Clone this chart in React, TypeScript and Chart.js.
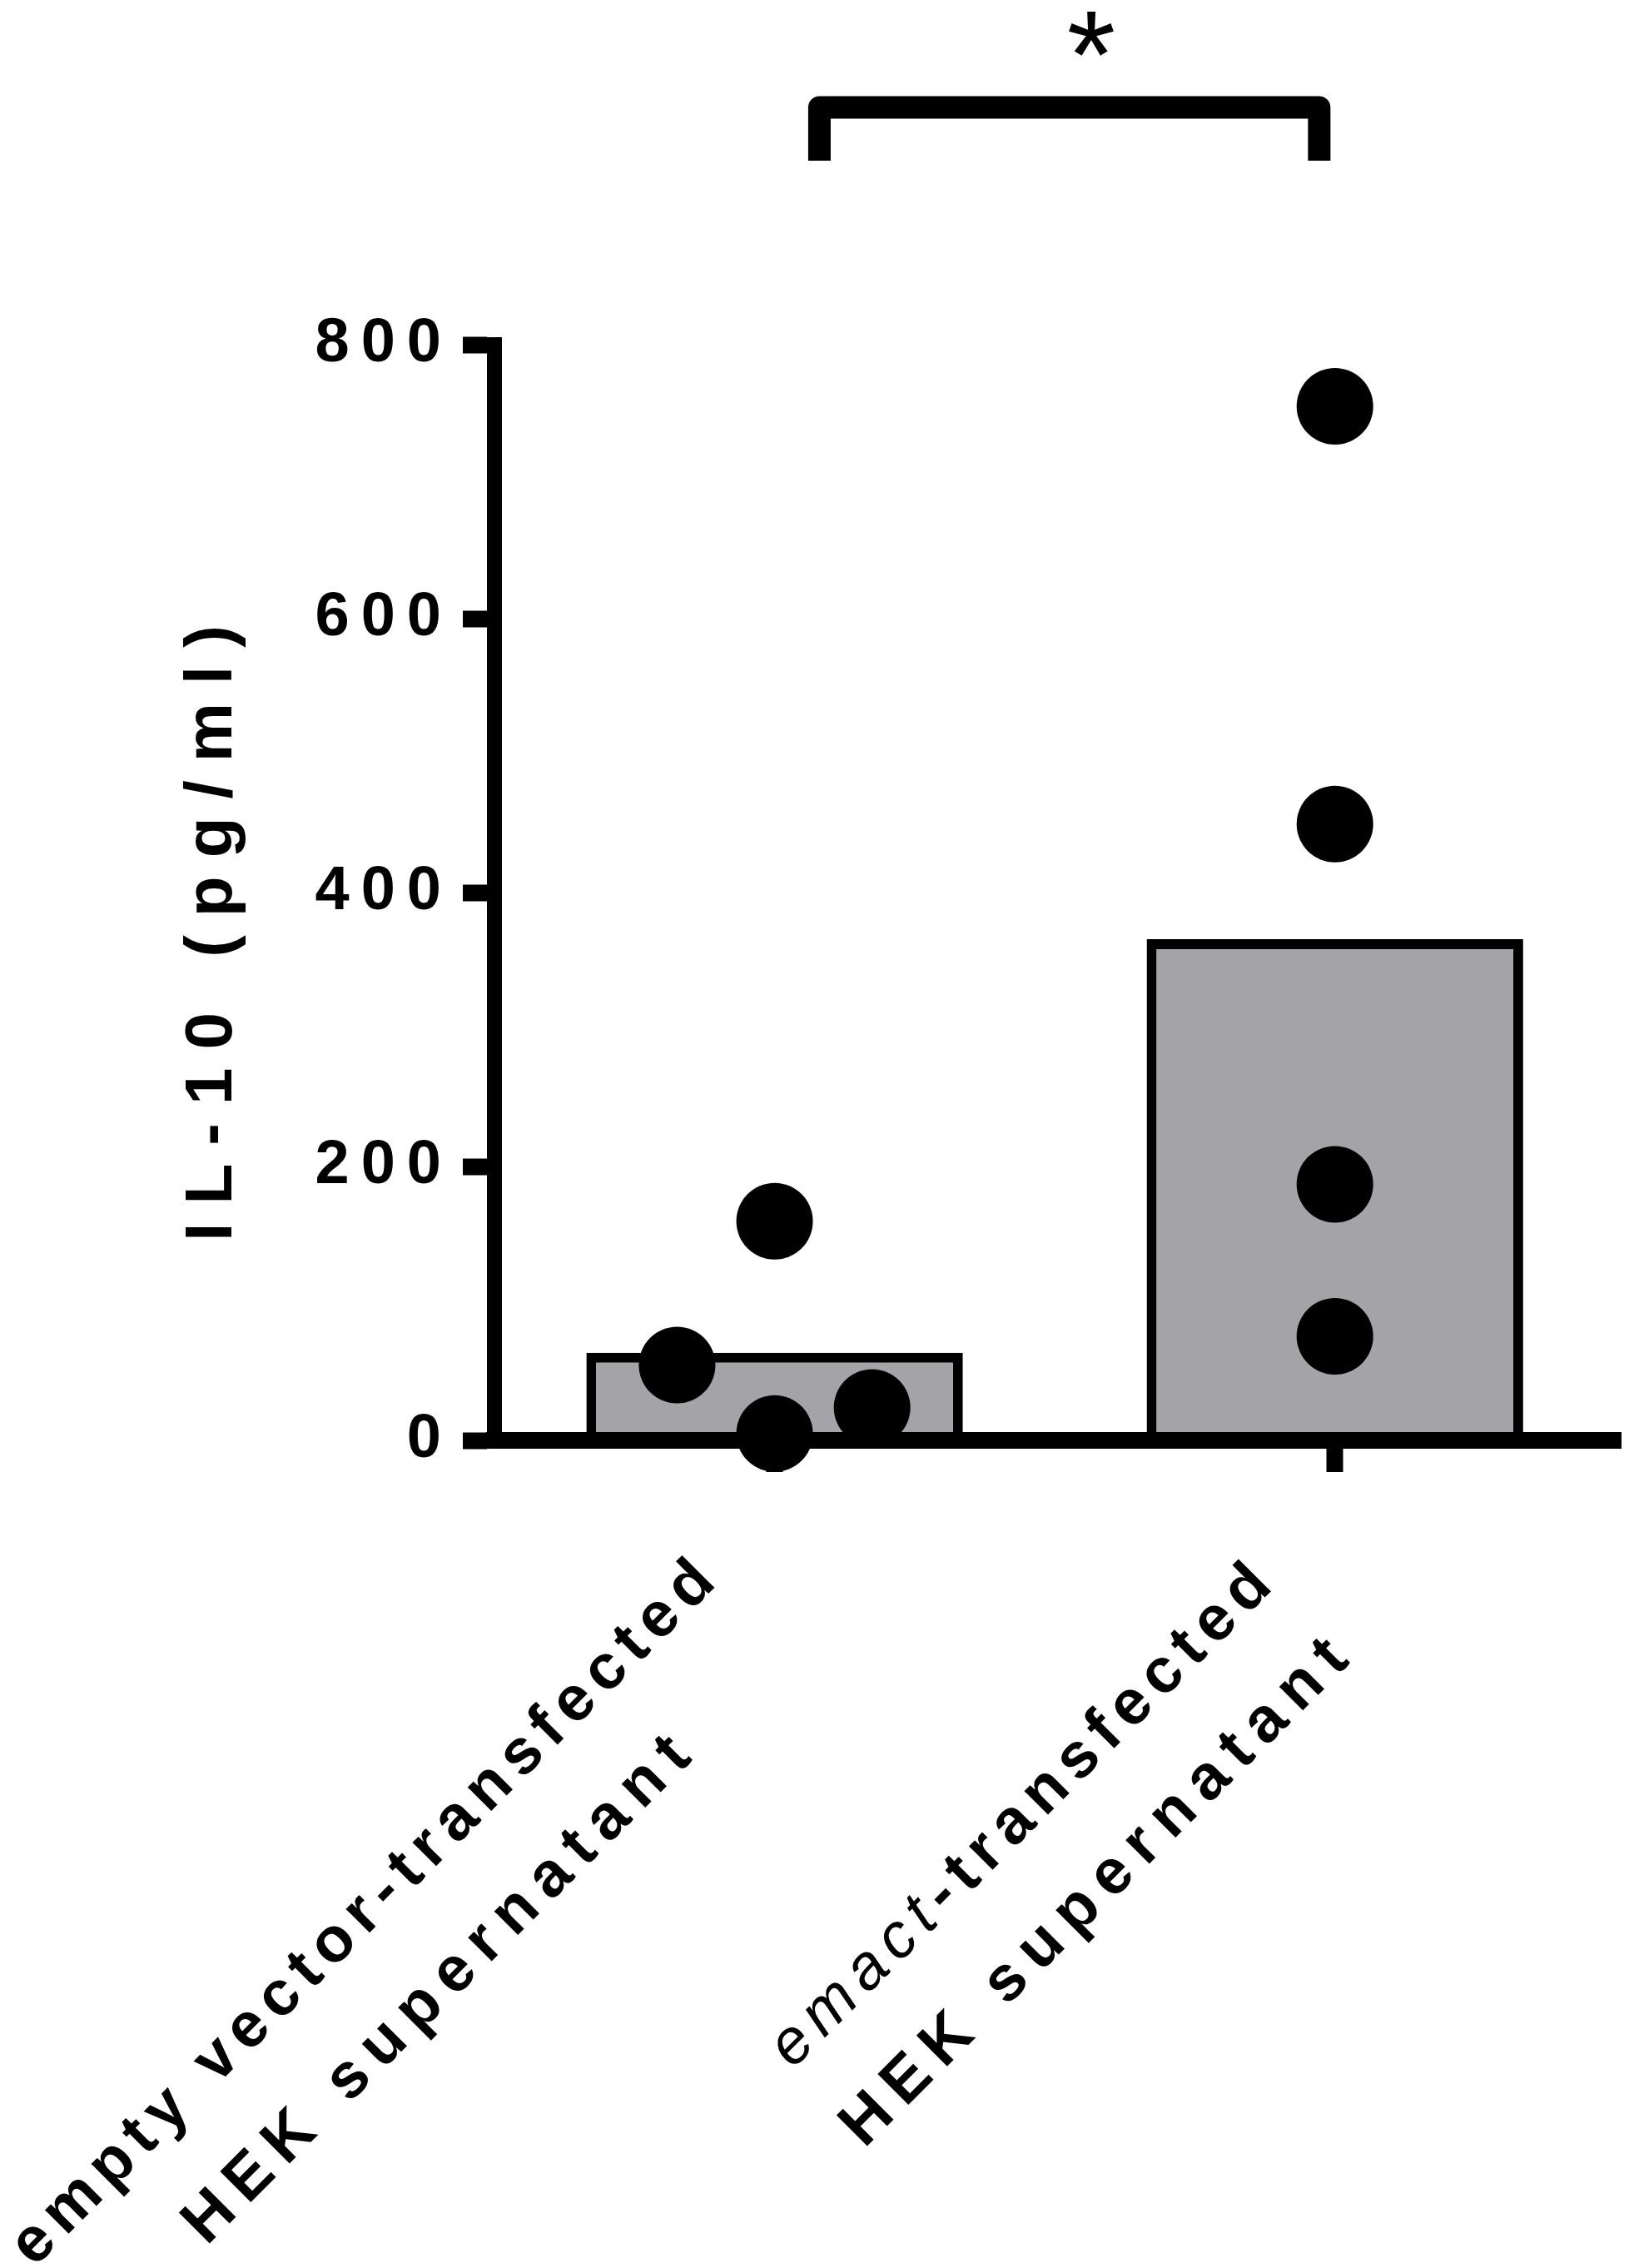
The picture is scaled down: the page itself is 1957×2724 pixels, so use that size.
import React, { useEffect, useRef } from 'react';
import { Chart, registerables } from 'chart.js';

Chart.register(...registerables);

// ---- data ----
const categoryPositions = [0, 1];
const categoryLabels = [
  [
    [{ text: 'empty vector-transfected', italic: false }],
    [{ text: 'HEK supernatant', italic: false }],
  ],
  [
    [{ text: 'emact', italic: true }, { text: '-transfected', italic: false }],
    [{ text: 'HEK supernatant', italic: false }],
  ],
];
const barMeans = [64, 366];
const group1Values = [55, 160, 5, 24];
const group1Jitter = [-0.174, 0, 0, 0.174];
const group2Values = [755, 450, 187, 76];
const group2Jitter = [0, 0, 0, 0];
const yTicks = [0, 200, 400, 600, 800];
const yTitle = 'IL-10 (pg/ml)';
const significanceMark = '*';

const FONT = '"Liberation Sans", Arial, sans-serif';
const LABEL_SIZE = 76;
const LINE_SPACING = ['11px', '15px'];

const decorPlugin = {
  id: 'decor',
  beforeDraw(chart: any) {
    chart.ctx.letterSpacing = '14px';
  },
  afterDraw(chart: any) {
    const ctx = chart.ctx;
    const xs = chart.scales.x;
    const ca = chart.chartArea;
    ctx.save();
    ctx.fillStyle = '#000';
    ctx.strokeStyle = '#000';

    // y-axis title
    ctx.save();
    ctx.letterSpacing = '22px';
    ctx.font = `bold 80px ${FONT}`;
    ctx.textAlign = 'center';
    ctx.textBaseline = 'alphabetic';
    ctx.translate(ca.left - 316, (ca.top + ca.bottom) / 2 + 49);
    ctx.rotate(-Math.PI / 2);
    ctx.fillText(yTitle, 11, 0);
    ctx.restore();

    // x category labels (rotated 45deg, centered lines)
    const END_U = -160;
    const N0 = 74;
    const LH = 128;
    const fontFor = (s: any) =>
      s.italic ? `italic ${LABEL_SIZE}px ${FONT}` : `bold ${LABEL_SIZE}px ${FONT}`;
    categoryLabels.forEach((lines, i) => {
      const tx = xs.getPixelForValue(categoryPositions[i]);
      const ty = ca.bottom;
      ctx.save();
      ctx.translate(tx, ty);
      ctx.rotate(-Math.PI / 4);
      ctx.textAlign = 'left';
      ctx.textBaseline = 'alphabetic';
      const widths = lines.map((segs, j) => {
        ctx.letterSpacing = LINE_SPACING[j];
        return segs.reduce((w, s) => {
          ctx.font = fontFor(s);
          return w + ctx.measureText(s.text).width;
        }, 0);
      });
      const maxW = Math.max(...widths);
      const cx = END_U - maxW / 2;
      lines.forEach((segs, j) => {
        ctx.letterSpacing = LINE_SPACING[j];
        let x = cx - widths[j] / 2;
        const y = N0 + j * LH;
        segs.forEach((s) => {
          ctx.font = fontFor(s);
          ctx.fillText(s.text, x, y);
          x += ctx.measureText(s.text).width;
        });
      });
      ctx.restore();
    });

    // significance bracket
    const lx = xs.getPixelForValue(0.08);
    const rx = xs.getPixelForValue(0.972);
    ctx.save();
    ctx.lineWidth = 27;
    ctx.lineJoin = 'round';
    ctx.lineCap = 'butt';
    ctx.beginPath();
    ctx.moveTo(lx, 193);
    ctx.lineTo(lx, 129);
    ctx.lineTo(rx, 129);
    ctx.lineTo(rx, 193);
    ctx.stroke();
    ctx.restore();

    // asterisk
    ctx.save();
    ctx.letterSpacing = '0px';
    ctx.font = `150px ${FONT}`;
    ctx.textAlign = 'center';
    ctx.textBaseline = 'alphabetic';
    const m = ctx.measureText(significanceMark);
    const cy = 40;
    const base = cy + (m.actualBoundingBoxAscent - m.actualBoundingBoxDescent) / 2;
    ctx.fillText(significanceMark, xs.getPixelForValue(0.565), base);
    ctx.restore();

    ctx.restore();
  },
};

export default function App() {
  const ref = useRef<HTMLCanvasElement | null>(null);
  useEffect(() => {
    document.body.style.margin = '0';
    const canvas = ref.current!;
    const chart = new Chart(canvas, {
      type: 'bar',
      data: {
        datasets: [
          {
            type: 'scatter',
            data: [
              ...group1Values.map((v, k) => ({ x: categoryPositions[0] + group1Jitter[k], y: v })),
              ...group2Values.map((v, k) => ({ x: categoryPositions[1] + group2Jitter[k], y: v })),
            ],
            pointRadius: 46,
            pointHoverRadius: 46,
            pointBackgroundColor: '#000',
            pointBorderColor: '#000',
            pointBorderWidth: 0,
            showLine: false,
            clip: false,
            order: 1,
          } as any,
          {
            type: 'bar',
            data: categoryPositions.map((c, i) => ({ x: c, y: barMeans[i] })),
            backgroundColor: '#a3a3a8',
            borderColor: '#000',
            borderWidth: 12,
            borderSkipped: 'start',
            barPercentage: 0.672,
            categoryPercentage: 1,
            order: 2,
          } as any,
        ],
      },
      options: {
        animation: false,
        responsive: false,
        devicePixelRatio: 1,
        layout: { autoPadding: false, padding: { top: 414, right: 10, left: 0, bottom: 0 } },
        plugins: { legend: { display: false }, tooltip: { enabled: false } },
        scales: {
          x: {
            type: 'linear',
            min: -0.5,
            max: 1.51,
            offset: false,
            afterBuildTicks: (s: any) => {
              s.ticks = categoryPositions.map((v) => ({ value: v }));
            },
            afterFit: (s: any) => {
              s.height = 994;
            },
            ticks: { display: false },
            grid: { offset: false, drawOnChartArea: false, tickLength: 38, tickWidth: 20, tickColor: '#000' },
            border: { color: '#000', width: 20, z: 1 },
          },
          y: {
            type: 'linear',
            min: 0,
            max: 800,
            afterBuildTicks: (s: any) => {
              s.ticks = yTicks.map((v) => ({ value: v }));
            },
            afterFit: (s: any) => {
              s.width = 594;
            },
            ticks: {
              font: { family: FONT, size: 74, weight: 'bold' },
              color: '#000',
              padding: 12,
            },
            grid: { offset: false, drawOnChartArea: false, tickLength: 38, tickWidth: 20, tickColor: '#000' },
            border: { color: '#000', width: 18, z: 1 },
          },
        },
      } as any,
      plugins: [decorPlugin],
    });
    return () => chart.destroy();
  }, []);
  return (
    <div style={{ position: 'absolute', left: 0, top: 0, width: 1957, height: 2724 }}>
      <canvas ref={ref} width={1957} height={2724} style={{ width: 1957, height: 2724, display: 'block' }} />
    </div>
  );
}
